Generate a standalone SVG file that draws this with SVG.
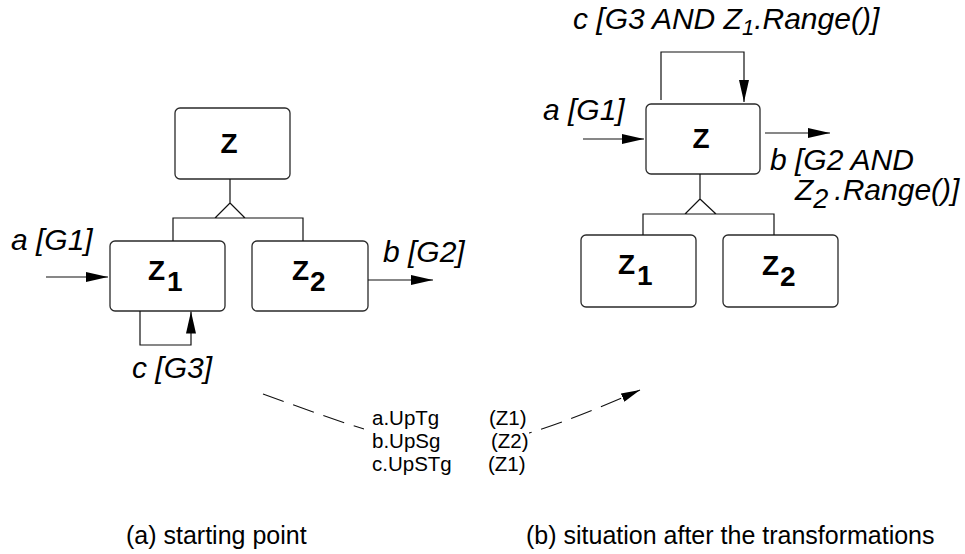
<svg xmlns="http://www.w3.org/2000/svg" width="965" height="554" viewBox="0 0 965 554">
<style>
  .box { fill: #ffffff; stroke: #2a2a2a; stroke-width: 1.3; }
  .line { fill: none; stroke: #111111; stroke-width: 1.2; }
  .dash { fill: none; stroke: #111111; stroke-width: 1.1; stroke-dasharray: 22 10; }
  .node { font-family: "Liberation Sans", Arial, sans-serif; font-weight: bold; font-size: 28px; fill: #000; }
  .lbl { font-family: "Liberation Sans", Arial, sans-serif; font-style: italic; font-size: 30px; fill: #000; }
  .txt { font-family: "Liberation Sans", Arial, sans-serif; font-size: 20.5px; fill: #000; }
  .cap { font-family: "Liberation Sans", Arial, sans-serif; font-size: 25px; fill: #000; }
</style>
<defs>
  <marker id="arr" markerUnits="userSpaceOnUse" markerWidth="22" markerHeight="10" refX="22" refY="5" orient="auto" viewBox="0 0 22 10">
    <path d="M0,0 L22,5 L0,10 Z" fill="#000"/>
  </marker>
  <marker id="arrs" markerUnits="userSpaceOnUse" markerWidth="19" markerHeight="9" refX="19" refY="4.5" orient="auto" viewBox="0 0 19 9">
    <path d="M0,0 L19,4.5 L0,9 Z" fill="#000"/>
  </marker>
  <clipPath id="textGap">
    <path clip-rule="evenodd" d="M0,0 H965 V554 H0 Z M364,400 H529 V480 H364 Z"/>
  </clipPath>
</defs>

<!-- Left diagram (a) nodes -->
<g id="a-Z">
  <rect class="box" x="175" y="108" width="115" height="71" rx="5"/>
  <text class="node" x="229" y="153" text-anchor="middle">Z</text>
</g>
<g id="a-Z1">
  <rect class="box" x="110" y="241" width="115" height="70" rx="5"/>
  <text class="node" x="148" y="280">Z<tspan dx="2" dy="11">1</tspan></text>
</g>
<g id="a-Z2">
  <rect class="box" x="252" y="241" width="116" height="70" rx="5"/>
  <text class="node" x="292" y="280">Z<tspan dx="1" dy="11">2</tspan></text>
</g>

<!-- Right diagram (b) nodes -->
<g id="b-Z">
  <rect class="box" x="646" y="104" width="114" height="70" rx="5"/>
  <text class="node" x="701" y="148" text-anchor="middle">Z</text>
</g>
<g id="b-Z1">
  <rect class="box" x="581" y="235" width="115" height="72" rx="5"/>
  <text class="node" x="618" y="274">Z<tspan dx="2" dy="11">1</tspan></text>
</g>
<g id="b-Z2">
  <rect class="box" x="723" y="235" width="115" height="72" rx="5"/>
  <text class="node" x="762" y="275">Z<tspan dx="1" dy="11">2</tspan></text>
</g>

<!-- Connectors -->
<g id="connectors">
  <!-- left decomposition -->
  <path class="line" d="M230,179 V203 M230,203 L215,218 M230,203 L245,218 M173,241 V218 H303 V241"/>
  <!-- left transitions -->
  <line class="line" x1="46" y1="277" x2="108" y2="277" marker-end="url(#arr)"/>
  <line class="line" x1="368" y1="280" x2="433" y2="280" marker-end="url(#arr)"/>
  <path class="line" d="M140,311 V345 H191 V311.5" marker-end="url(#arr)"/>

  <!-- right decomposition -->
  <path class="line" d="M700,174 V199 M700,199 L685,214 M700,199 L716,214 M643,235 V214 H774 V235"/>
  <!-- right transitions -->
  <line class="line" x1="583" y1="139" x2="644" y2="139" marker-end="url(#arr)"/>
  <line class="line" x1="765" y1="133" x2="830" y2="133" marker-end="url(#arr)"/>
  <path class="line" d="M661,100 V52 H744 V102" marker-end="url(#arr)"/>

  <!-- transformation arrow -->
  <path class="dash" clip-path="url(#textGap)" d="M263,394 C330,418 400,445 450,446 C500,447 560,425 640,390" marker-end="url(#arrs)"/>
</g>

<!-- Transition labels -->
<g id="labels">
  <text class="lbl" x="11" y="250">a [G1]</text>
  <text class="lbl" x="383" y="262">b [G2]</text>
  <text class="lbl" x="132" y="378">c [G3]</text>

  <text class="lbl" x="573" y="29">c [G3 AND Z<tspan font-size="22" dy="6">1</tspan><tspan dy="-6">.Range()]</tspan></text>
  <text class="lbl" x="543" y="120">a [G1]</text>
  <text class="lbl" x="770" y="170">b [G2 AND</text>
  <text class="lbl" x="795" y="200">Z<tspan font-size="27" dy="8">2</tspan><tspan dx="6" dy="-8">.Range()]</tspan></text>
</g>

<!-- Transformations list -->
<g id="transformations">
  <text class="txt" x="372" y="425">a.UpTg</text>
  <text class="txt" x="489" y="425">(Z1)</text>
  <text class="txt" x="372" y="448">b.UpSg</text>
  <text class="txt" x="491" y="448">(Z2)</text>
  <text class="txt" x="372" y="471">c.UpSTg</text>
  <text class="txt" x="488" y="471">(Z1)</text>
</g>

<!-- Captions -->
<g id="captions">
  <text class="cap" x="126" y="544">(a) starting point</text>
  <text class="cap" x="526" y="544">(b) situation after the transformations</text>
</g>
</svg>
